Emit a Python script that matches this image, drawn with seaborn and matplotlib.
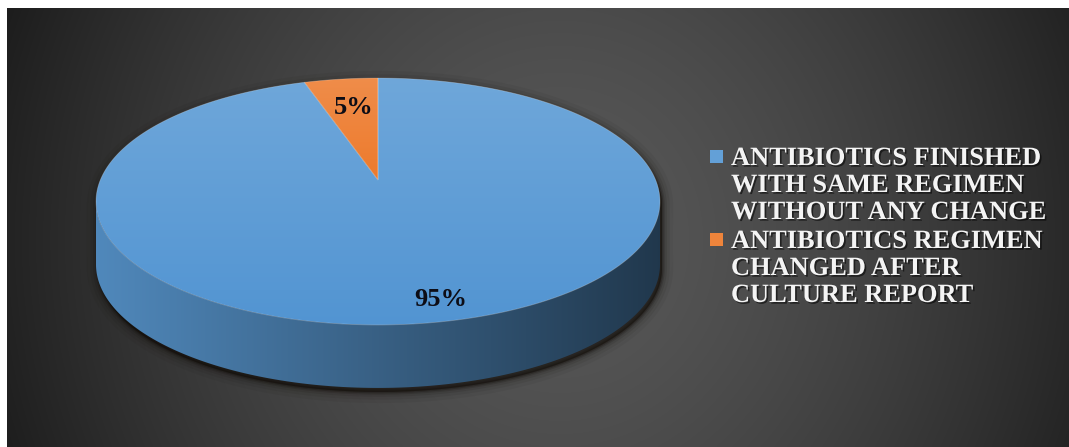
import numpy as np
import matplotlib
matplotlib.use("Agg")
import matplotlib.pyplot as plt
import seaborn as sns
from matplotlib.patches import Polygon, Rectangle
from matplotlib.colors import to_rgb
import matplotlib.patheffects as pe

# ---- data -------------------------------------------------------------
categories = [
    "ANTIBIOTICS FINISHED\nWITH SAME REGIMEN\nWITHOUT ANY CHANGE",
    "ANTIBIOTICS REGIMEN\nCHANGED AFTER\nCULTURE REPORT",
]
shares = [95, 5]
slice_colors = ["#5b9bd5", "#ed7d31"]

# ---- style ------------------------------------------------------------
sns.set_theme(style="white")
palette = sns.color_palette(slice_colors)
plt.rcParams["font.family"] = ["Liberation Serif", "DejaVu Serif"]

W, H = 1069, 447
fig = plt.figure(figsize=(W / 100, H / 100), dpi=100)
fig.patch.set_facecolor("white")
ax = fig.add_axes([0, 0, 1, 1])
ax.axis("off")

# ---- dark radial background ------------------------------------------
BX0, BY0 = 7, 8
gx = np.linspace(BX0, W, 540)
gy = np.linspace(BY0, H, 230)
XX, YY = np.meshgrid(gx, gy)
d = np.sqrt(((XX - 560) / 560) ** 2 + ((YY - 240) / 600) ** 2)
d = np.clip(d, 0, 1.1) ** 1.5
val = (88 - (88 - 34) * d) / 255.0
bg = np.dstack([val, val, val])
ax.imshow(bg, extent=(BX0, W, H, BY0), origin="upper", aspect="auto",
          zorder=0, interpolation="bilinear")

# ---- perspective projection of the pie disc --------------------------
CX, CY0 = 378.0, 180.0      # projected centre of the top face
PA, PC = 88.4, -0.174       # vertical projective terms
RX = 277.7                  # horizontal radius
DEPTH = 63.0                # thickness of the disc


def project(theta_deg, r=1.0, drop=0.0):
    th = np.radians(theta_deg)
    u = r * np.cos(th)
    v = -r * np.sin(th)
    w = 1 + PC * v
    return CX + RX * u / w, (PA * v + CY0) / w + drop


def arc(t1, t2, n=300, drop=0.0):
    ts = np.linspace(t1, t2, n)
    x, y = project(ts, 1.0, drop)
    return np.column_stack([x, y])


def mix(c, other, t):
    c = np.array(to_rgb(c)); o = np.array(to_rgb(other))
    return tuple(c * (1 - t) + o * t)


def fill_gradient(xy, c0, c1, horizontal, zorder):
    xy = np.asarray(xy)
    x0, x1 = xy[:, 0].min(), xy[:, 0].max()
    y0, y1 = xy[:, 1].min(), xy[:, 1].max()
    t = np.linspace(0, 1, 256)
    a = np.array(to_rgb(c0)); b = np.array(to_rgb(c1))
    cols = a[None, :] * (1 - t[:, None]) + b[None, :] * t[:, None]
    img = cols[None, :, :] if horizontal else cols[:, None, :]
    clip = Polygon(xy, closed=True, facecolor="none", edgecolor="none",
                   zorder=zorder)
    ax.add_patch(clip)
    im = ax.imshow(img, extent=(x0, x1, y1, y0), origin="upper",
                   aspect="auto", zorder=zorder, interpolation="bilinear")
    im.set_clip_path(clip)


# slice angles: first slice starts at 12 o'clock, running clockwise
fracs = np.array(shares, dtype=float) / sum(shares)
bounds = []
start = 90.0
for f in fracs:
    bounds.append((start - f * 360.0, start))
    start -= f * 360.0

# silhouette angles of the disc (where the side becomes visible)
vs = -PC
th_left = 180.0 + np.degrees(np.arcsin(vs))
th_right = 360.0 - np.degrees(np.arcsin(vs))

# ---- soft drop shadow --------------------------------------------------
sil = np.vstack([arc(th_right - 360, th_left), arc(th_left, th_right, drop=DEPTH)])
for lw, al in [(16, 0.05), (11, 0.07), (7, 0.10), (4, 0.16), (2, 0.25)]:
    ax.add_patch(Polygon(sil + np.array([2.0, 4.0]), closed=True,
                         facecolor=(0.06, 0.04, 0.02, al),
                         edgecolor=(0.06, 0.04, 0.02, al), lw=lw,
                         joinstyle="round", zorder=1))


# ---- disc side (front half) -------------------------------------------
def owner(theta):
    for i, (t1, t2) in enumerate(bounds):
        rel = (theta - t1) % 360.0
        if rel <= (t2 - t1):
            return i
    return 0


side_ts = np.linspace(th_left, th_right, 800)
owners = np.array([owner(t) for t in side_ts])
seg_start = 0
for k in range(1, len(side_ts) + 1):
    if k == len(side_ts) or owners[k] != owners[seg_start]:
        t1, t2 = side_ts[seg_start], side_ts[k - 1]
        col = palette[owners[seg_start]]
        poly = np.vstack([arc(t1, t2), arc(t2, t1, drop=DEPTH)])
        fill_gradient(poly, mix(col, "black", 0.12), mix(col, "black", 0.64),
                      horizontal=True, zorder=2)
        seg_start = k

# ---- top face slices ---------------------------------------------------
for i, (t1, t2) in enumerate(bounds):
    col = palette[i]
    cx, cy = project(0.0, 0.0)
    poly = np.vstack([[cx, cy], arc(t1, t2, n=400)])
    fill_gradient(poly, mix(col, "white", 0.12),
                  mix(col, "#1f6fc0" if i == 0 else "#f06a10", 0.15),
                  horizontal=False, zorder=3)
    ax.add_patch(Polygon(poly, closed=True, facecolor="none",
                         edgecolor=(1, 1, 1, 0.25), lw=0.6, zorder=4))

# ---- percentage labels -------------------------------------------------
label_xy = [(441, 299), (354, 107)]
for s, (lx, ly) in zip(shares, label_xy):
    ax.text(lx, ly, f"{s}%", ha="center", va="center", fontsize=19,
            fontweight="bold", color="#0d0d16", zorder=6)

# ---- legend ------------------------------------------------------------
LEG_X, TEXT_X = 710, 731
first_baselines = [165, 248]
LINE_STEP = 27
shadow = [pe.SimplePatchShadow(offset=(1.2, -1.2), shadow_rgbFace="black", alpha=0.55),
          pe.Normal()]
for i, (label, base) in enumerate(zip(categories, first_baselines)):
    ax.add_patch(Rectangle((LEG_X, base - 15), 13, 13,
                           facecolor=mix(palette[i], "white", 0.05),
                           edgecolor="none", zorder=6))
    for j, line in enumerate(label.split("\n")):
        ax.text(TEXT_X, base + j * LINE_STEP, line, ha="left", va="baseline",
                fontsize=19, fontweight="bold", color="#f4f4f4",
                zorder=6, path_effects=shadow)

ax.set_xlim(0, W)
ax.set_ylim(H, 0)
fig.savefig("out.png", dpi=100, facecolor=fig.get_facecolor())
